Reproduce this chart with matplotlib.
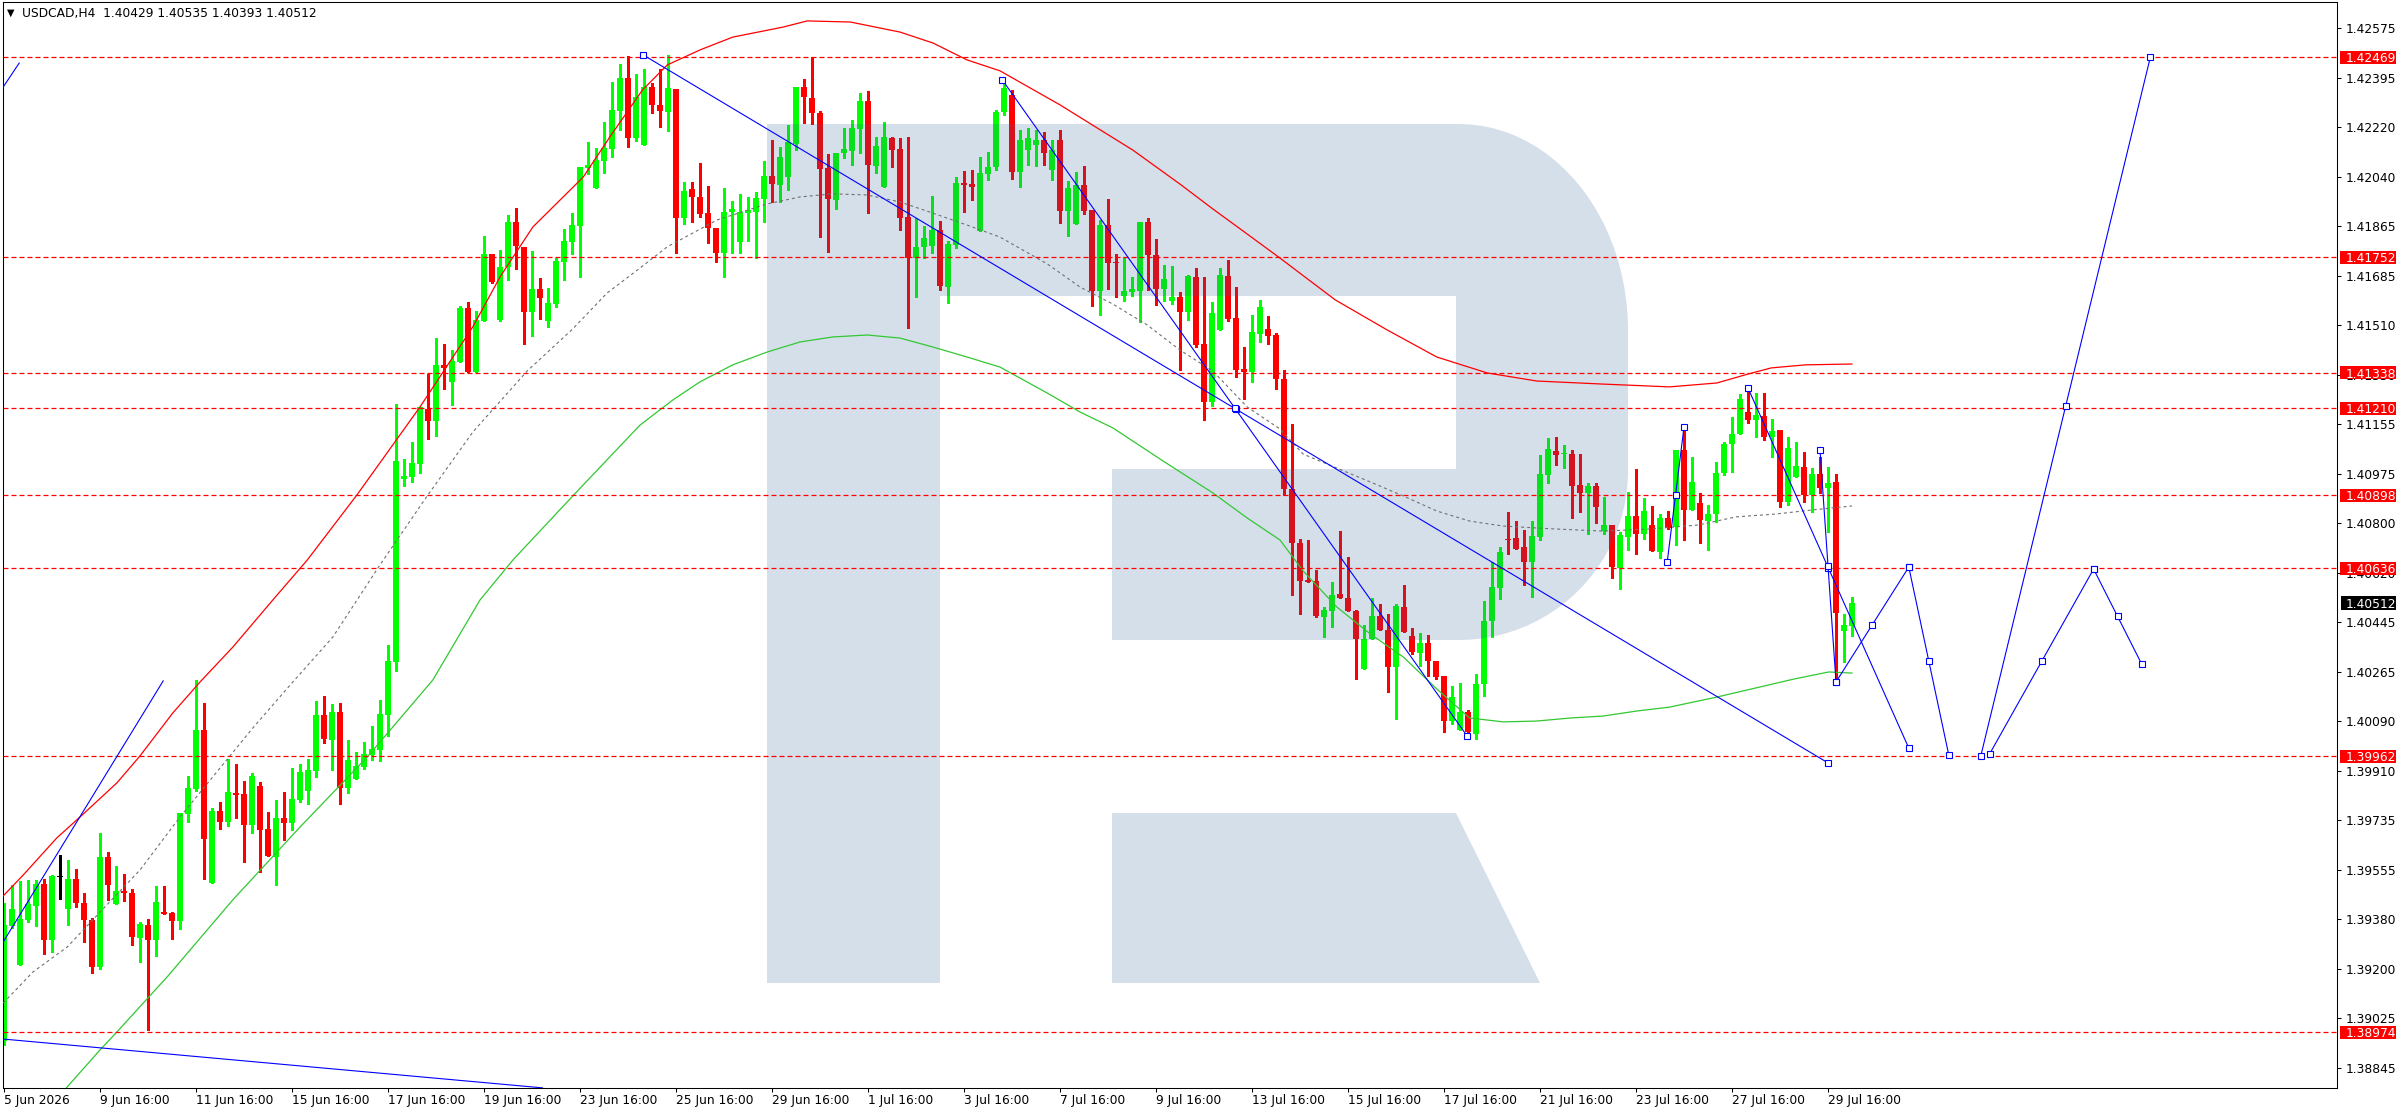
import matplotlib
matplotlib.use("Agg")
import matplotlib.pyplot as plt
import matplotlib.transforms as mtransforms
from matplotlib.patches import Polygon
import numpy as np

plt.rcParams["font.family"] = ["DejaVu Sans"]

symbol = "USDCAD,H4"

# H4 candles, bar 0 = 5 Jun 2026
opens = [
    1.38942, 1.39354, 1.39214, 1.39376, 1.39426, 1.39505, 1.39304, 1.39530, 1.39415, 1.39523,
    1.39437, 1.39376, 1.39207, 1.39602, 1.39433, 1.39480, 1.39473, 1.39311, 1.39358, 1.39304,
    1.39404, 1.39401, 1.39372, 1.39756, 1.39845, 1.40057, 1.39508, 1.39767, 1.39727, 1.39831,
    1.39828, 1.39716, 1.39856, 1.39702, 1.39602, 1.39742, 1.39724, 1.39806, 1.39838, 1.39910,
    1.40111, 1.40021, 1.40121, 1.39849, 1.39881, 1.39924, 1.39967, 1.39985, 1.40111, 1.40301,
    1.40957, 1.40964, 1.41011, 1.41208, 1.41165, 1.41366, 1.41305, 1.41376, 1.41570, 1.41340,
    1.41523, 1.41763, 1.41527, 1.41717, 1.41878, 1.41789, 1.41556, 1.41638, 1.41523, 1.41584,
    1.41735, 1.41806, 1.41864, 1.42072, 1.42000, 1.42097, 1.42140, 1.42276, 1.42394, 1.42179,
    1.42154, 1.42362, 1.42298, 1.42273, 1.42355, 1.41893, 1.41996, 1.41968, 1.41910, 1.41857,
    1.41767, 1.41914, 1.41806, 1.41910, 1.41914, 1.41961, 1.42043, 1.42011, 1.42039, 1.42158,
    1.42362, 1.42323, 1.42269, 1.42072, 1.41957, 1.42125, 1.42133, 1.42211, 1.42312, 1.42079,
    1.42004, 1.42179, 1.42140, 1.41896, 1.41749, 1.41789, 1.41792, 1.41849, 1.41645, 1.41796,
    1.42018, 1.42014, 1.41846, 1.42050, 1.42075, 1.42273, 1.42333, 1.42057, 1.42136, 1.42154,
    1.42172, 1.42065, 1.42172, 1.41918, 1.41871, 1.42011, 1.41921, 1.41631, 1.41867, 1.41735,
    1.41613, 1.41627, 1.41631, 1.41878, 1.41760, 1.41638, 1.41595, 1.41609, 1.41556, 1.41681,
    1.41441, 1.41233, 1.41491, 1.41684, 1.41534, 1.41351, 1.41340, 1.41477, 1.41495, 1.41473,
    1.41315, 1.40921, 1.40727, 1.40595, 1.40591, 1.40462, 1.40484, 1.40545, 1.40530, 1.40484,
    1.40276, 1.40383, 1.40466, 1.40415, 1.40283, 1.40498, 1.40394, 1.40333, 1.40369, 1.40304,
    1.40251, 1.40089, 1.40057, 1.40121, 1.40043, 1.40222, 1.40448, 1.40566, 1.40742, 1.40745,
    1.40713, 1.40659, 1.40749, 1.40971, 1.41057, 1.41046, 1.41046, 1.40935, 1.40907, 1.40932,
    1.40770, 1.40792, 1.40638, 1.40749, 1.40824, 1.40760, 1.40792, 1.40695, 1.40817, 1.40785,
    1.41061, 1.40846, 1.40871, 1.40806, 1.40831, 1.40978, 1.41082, 1.41118, 1.41197, 1.41168,
    1.41183, 1.41107, 1.41132, 1.40874, 1.40964, 1.41000, 1.40899, 1.40975, 1.40925, 1.40946,
    1.40412, 1.40429,
]
highs = [
    1.39437, 1.39501, 1.39516, 1.39519, 1.39519, 1.39523, 1.39537, 1.39609, 1.39591, 1.39559,
    1.39473, 1.39383, 1.39688, 1.39620, 1.39569, 1.39541, 1.39487, 1.39369, 1.39379, 1.39498,
    1.39498, 1.39404, 1.39759, 1.39892, 1.40236, 1.40154, 1.39777, 1.39799, 1.39953, 1.39935,
    1.39874, 1.39903, 1.39871, 1.39763, 1.39806, 1.39835, 1.39921, 1.39935, 1.39953, 1.40161,
    1.40179, 1.40150, 1.40154, 1.40021, 1.39978, 1.40014, 1.40071, 1.40164, 1.40362, 1.41226,
    1.41029, 1.41089, 1.41215, 1.41333, 1.41462, 1.41441, 1.41419, 1.41577, 1.41591, 1.41559,
    1.41828, 1.41763, 1.41778, 1.41903, 1.41928, 1.41789, 1.41774, 1.41677, 1.41642, 1.41749,
    1.41853, 1.41910, 1.42075, 1.42165, 1.42143, 1.42237, 1.42380, 1.42445, 1.42473, 1.42409,
    1.42427, 1.42376, 1.42427, 1.42477, 1.42355, 1.42021, 1.42021, 1.42090, 1.42007, 1.41857,
    1.42000, 1.41953, 1.41979, 1.41968, 1.41986, 1.42097, 1.42172, 1.42147, 1.42226, 1.42362,
    1.42391, 1.42470, 1.42276, 1.42122, 1.42125, 1.42215, 1.42244, 1.42341, 1.42348, 1.42183,
    1.42237, 1.42183, 1.42179, 1.42183, 1.41893, 1.41864, 1.41971, 1.41882, 1.41810, 1.42039,
    1.42061, 1.42065, 1.42111, 1.42129, 1.42280, 1.42387, 1.42351, 1.42208, 1.42215, 1.42208,
    1.42201, 1.42172, 1.42208, 1.42025, 1.42057, 1.42079, 1.41921, 1.41885, 1.41961, 1.41763,
    1.41753, 1.41681, 1.41878, 1.41893, 1.41817, 1.41724, 1.41720, 1.41627, 1.41688, 1.41713,
    1.41681, 1.41591, 1.41713, 1.41742, 1.41645, 1.41430, 1.41545, 1.41599, 1.41541, 1.41480,
    1.41347, 1.41154, 1.40742, 1.40738, 1.40631, 1.40498, 1.40587, 1.40770, 1.40677, 1.40487,
    1.40433, 1.40530, 1.40509, 1.40473, 1.40509, 1.40577, 1.40423, 1.40405, 1.40398, 1.40304,
    1.40251, 1.40215, 1.40225, 1.40129, 1.40258, 1.40519, 1.40659, 1.40713, 1.40839, 1.40806,
    1.40774, 1.40806, 1.41043, 1.41104, 1.41107, 1.41079, 1.41061, 1.41046, 1.40942, 1.40942,
    1.40892, 1.40792, 1.40767, 1.40910, 1.40993, 1.40889, 1.40860, 1.40831, 1.40842, 1.41061,
    1.41132, 1.41036, 1.40907, 1.40864, 1.41018, 1.41089, 1.41179, 1.41262, 1.41279, 1.41265,
    1.41265, 1.41172, 1.41132, 1.41107, 1.41089, 1.41054, 1.40996, 1.41036, 1.41000, 1.40975,
    1.40473, 1.40535,
]
lows = [
    1.38928, 1.39347, 1.39214, 1.39369, 1.39354, 1.39254, 1.39261, 1.39451, 1.39358, 1.39422,
    1.39297, 1.39186, 1.39200, 1.39448, 1.39433, 1.39444, 1.39286, 1.39225, 1.38981, 1.39247,
    1.39397, 1.39308, 1.39343, 1.39727, 1.39838, 1.39523, 1.39508, 1.39702, 1.39713, 1.39742,
    1.39584, 1.39688, 1.39548, 1.39605, 1.39501, 1.39663, 1.39698, 1.39799, 1.39792, 1.39889,
    1.40010, 1.39913, 1.39792, 1.39831, 1.39881, 1.39917, 1.39949, 1.39946, 1.40035, 1.40269,
    1.40932, 1.40946, 1.40978, 1.41100, 1.41111, 1.41279, 1.41222, 1.41376, 1.41340, 1.41340,
    1.41523, 1.41659, 1.41523, 1.41670, 1.41710, 1.41441, 1.41469, 1.41530, 1.41502, 1.41573,
    1.41670, 1.41763, 1.41681, 1.42050, 1.42000, 1.42054, 1.42111, 1.42208, 1.42147, 1.42168,
    1.42154, 1.42269, 1.42219, 1.42204, 1.41767, 1.41871, 1.41878, 1.41896, 1.41803, 1.41735,
    1.41681, 1.41767, 1.41767, 1.41810, 1.41749, 1.41878, 1.41950, 1.41950, 1.41993, 1.42136,
    1.42233, 1.42229, 1.41824, 1.41771, 1.41925, 1.42108, 1.42082, 1.42125, 1.41910, 1.42054,
    1.42004, 1.42075, 1.41849, 1.41498, 1.41609, 1.41749, 1.41767, 1.41634, 1.41588, 1.41785,
    1.41914, 1.41957, 1.41846, 1.42029, 1.42065, 1.42262, 1.42032, 1.42004, 1.42082, 1.42079,
    1.42082, 1.42029, 1.41875, 1.41828, 1.41871, 1.41907, 1.41577, 1.41545, 1.41638, 1.41609,
    1.41595, 1.41613, 1.41520, 1.41634, 1.41581, 1.41595, 1.41584, 1.41347, 1.41527, 1.41430,
    1.41168, 1.41218, 1.41491, 1.41523, 1.41322, 1.41244, 1.41305, 1.41448, 1.41441, 1.41279,
    1.40899, 1.40541, 1.40473, 1.40587, 1.40462, 1.40390, 1.40426, 1.40530, 1.40484, 1.40240,
    1.40276, 1.40383, 1.40415, 1.40193, 1.40096, 1.40408, 1.40329, 1.40286, 1.40251, 1.40240,
    1.40050, 1.40079, 1.40057, 1.40035, 1.40025, 1.40179, 1.40390, 1.40527, 1.40688, 1.40706,
    1.40577, 1.40534, 1.40738, 1.40942, 1.41007, 1.40996, 1.40817, 1.40839, 1.40760, 1.40799,
    1.40760, 1.40602, 1.40562, 1.40702, 1.40688, 1.40742, 1.40699, 1.40674, 1.40778, 1.40720,
    1.40738, 1.40846, 1.40727, 1.40702, 1.40803, 1.40971, 1.40982, 1.41118, 1.41158, 1.41107,
    1.41097, 1.41036, 1.40856, 1.40864, 1.40964, 1.40874, 1.40839, 1.40907, 1.40767, 1.40236,
    1.40301, 1.40393,
]
closes = [
    1.39358, 1.39415, 1.39379, 1.39433, 1.39505, 1.39304, 1.39534, 1.39530, 1.39523, 1.39437,
    1.39376, 1.39207, 1.39602, 1.39501, 1.39480, 1.39473, 1.39315, 1.39361, 1.39304, 1.39440,
    1.39397, 1.39372, 1.39759, 1.39849, 1.40057, 1.39666, 1.39767, 1.39727, 1.39835, 1.39824,
    1.39716, 1.39892, 1.39698, 1.39605, 1.39742, 1.39724, 1.39810, 1.39906, 1.39913, 1.40111,
    1.40025, 1.40121, 1.39849, 1.39949, 1.39928, 1.39971, 1.39989, 1.40114, 1.40304, 1.41021,
    1.40968, 1.41014, 1.41215, 1.41165, 1.41366, 1.41355, 1.41380, 1.41570, 1.41340, 1.41527,
    1.41763, 1.41663, 1.41717, 1.41878, 1.41792, 1.41556, 1.41638, 1.41606, 1.41588, 1.41738,
    1.41810, 1.41867, 1.42075, 1.42082, 1.42100, 1.42143, 1.42280, 1.42394, 1.42179, 1.42326,
    1.42362, 1.42298, 1.42276, 1.42358, 1.41893, 1.41989, 1.41968, 1.41907, 1.41857, 1.41767,
    1.41914, 1.41925, 1.41914, 1.41921, 1.41964, 1.42043, 1.42014, 1.42111, 1.42165, 1.42362,
    1.42326, 1.42269, 1.42068, 1.41961, 1.42125, 1.42140, 1.42215, 1.42312, 1.42082, 1.42151,
    1.42183, 1.42136, 1.41893, 1.41749, 1.41789, 1.41821, 1.41849, 1.41649, 1.41799, 1.42018,
    1.42011, 1.42004, 1.42054, 1.42075, 1.42273, 1.42358, 1.42057, 1.42172, 1.42179, 1.42172,
    1.42125, 1.42136, 1.41918, 1.42000, 1.42011, 1.41918, 1.41631, 1.41867, 1.41731, 1.41731,
    1.41631, 1.41638, 1.41878, 1.41760, 1.41638, 1.41674, 1.41609, 1.41556, 1.41684, 1.41437,
    1.41233, 1.41552, 1.41688, 1.41530, 1.41347, 1.41340, 1.41484, 1.41573, 1.41469, 1.41315,
    1.40921, 1.40727, 1.40591, 1.40587, 1.40466, 1.40487, 1.40541, 1.40530, 1.40484, 1.40383,
    1.40383, 1.40466, 1.40415, 1.40283, 1.40502, 1.40408, 1.40337, 1.40369, 1.40304, 1.40247,
    1.40089, 1.40175, 1.40121, 1.40050, 1.40222, 1.40448, 1.40570, 1.40695, 1.40738, 1.40706,
    1.40659, 1.40752, 1.40975, 1.41064, 1.41043, 1.41050, 1.40932, 1.40907, 1.40932, 1.40856,
    1.40792, 1.40641, 1.40756, 1.40824, 1.40760, 1.40842, 1.40699, 1.40817, 1.40781, 1.41061,
    1.40846, 1.40946, 1.40810, 1.40831, 1.40978, 1.41082, 1.41118, 1.41244, 1.41168, 1.41186,
    1.41107, 1.41129, 1.40874, 1.41068, 1.41003, 1.40899, 1.40975, 1.40925, 1.40942, 1.40476,
    1.40433, 1.40512,
]

time_labels = [
    "5 Jun 2026", "9 Jun 16:00", "11 Jun 16:00", "15 Jun 16:00", "17 Jun 16:00",
    "19 Jun 16:00", "23 Jun 16:00", "25 Jun 16:00", "29 Jun 16:00", "1 Jul 16:00",
    "3 Jul 16:00", "7 Jul 16:00", "9 Jul 16:00", "13 Jul 16:00", "15 Jul 16:00",
    "17 Jul 16:00", "21 Jul 16:00", "23 Jul 16:00", "27 Jul 16:00", "29 Jul 16:00",
]
bars_per_label = 12

price_ticks = [
    1.42575, 1.42395, 1.42220, 1.42040, 1.41865, 1.41685, 1.41510, 1.41330, 1.41155,
    1.40975, 1.40800, 1.40620, 1.40445, 1.40265, 1.40090, 1.39910, 1.39735, 1.39555,
    1.39380, 1.39200, 1.39025, 1.38845,
]

# horizontal levels
levels = [1.42469, 1.41752, 1.41338, 1.41210, 1.40898, 1.40636, 1.39962, 1.38974]

# indicator curves (bar, price)
red_ma_x = [-0.1, 2.4, 6.6, 9.5, 14.1, 17.0, 21.1, 24.5, 28.6, 33.6, 37.9, 44.1, 52.0, 58.6,
            62.0, 66.1, 72.4, 75.8, 79.8, 82.9, 87.0, 91.1, 97.4, 100.4, 105.8, 112.0, 116.1,
            120.4, 124.5, 132.0, 141.1, 147.0, 151.1, 155.4, 159.3, 166.4, 172.9, 179.1,
            185.4, 191.6, 199.9, 208.2, 214.1, 218.0, 220.9, 225.2, 231.0]
red_ma_y = [1.39462, 1.39537, 1.39670, 1.39745, 1.39867, 1.39964, 1.40118, 1.40229, 1.40354,
            1.40523, 1.40666, 1.40899, 1.41215, 1.41502, 1.41681, 1.41860, 1.42039, 1.42186,
            1.42351, 1.42441, 1.42495, 1.42541, 1.42577, 1.42599, 1.42595, 1.42559, 1.42520,
            1.42459, 1.42420, 1.42298, 1.42136, 1.42014, 1.41925, 1.41835, 1.41753, 1.41599,
            1.41491, 1.41394, 1.41337, 1.41308, 1.41297, 1.41287, 1.41301, 1.41333, 1.41355,
            1.41366, 1.41369]

mid_ma_x = [-0.1, 3.6, 7.9, 12.0, 17.0, 22.0, 26.1, 31.1, 36.1, 41.1, 47.0, 52.9, 58.6, 65.4,
            71.1, 75.4, 79.5, 82.9, 89.1, 95.4, 99.5, 103.6, 107.9, 112.0, 116.1, 120.4,
            124.5, 130.4, 134.5, 138.6, 142.9, 147.0, 151.1, 155.4, 159.5, 162.4, 166.6,
            170.8, 174.9, 179.1, 183.2, 187.4, 193.6, 199.9, 206.1, 211.8, 216.5, 221.4,
            226.1, 231.0]
mid_ma_y = [1.39078, 1.39189, 1.39279, 1.39404, 1.39555, 1.39745, 1.39889, 1.40064, 1.40229,
            1.40390, 1.40649, 1.40896, 1.41125, 1.41344, 1.41495, 1.41624, 1.41713, 1.41789,
            1.41885, 1.41943, 1.41968, 1.41979, 1.41975, 1.41950, 1.41910, 1.41867, 1.41824,
            1.41728, 1.41645, 1.41584, 1.41509, 1.41419, 1.41344, 1.41215, 1.41136, 1.41046,
            1.40996, 1.40946, 1.40896, 1.40842, 1.40806, 1.40788, 1.40778, 1.40770, 1.40778,
            1.40792, 1.40821, 1.40831, 1.40846, 1.40860]

green_ma_x = [7.8, 12.0, 14.1, 20.4, 28.6, 37.0, 45.4, 53.6, 59.5, 63.6, 71.1, 79.5, 83.6,
              87.0, 91.1, 95.4, 99.5, 103.6, 107.9, 112.0, 116.1, 120.4, 124.5, 130.4, 134.5,
              138.6, 144.9, 151.1, 155.4, 159.5, 162.4, 166.6, 170.8, 174.9, 179.1, 183.2,
              187.4, 191.6, 195.8, 199.9, 204.1, 208.2, 214.1, 223.8, 228.1, 231.0]
green_ma_y = [1.38774, 1.38910, 1.38974, 1.39172, 1.39448, 1.39709, 1.39960, 1.40236, 1.40523,
              1.40666, 1.40896, 1.41150, 1.41240, 1.41305, 1.41366, 1.41412, 1.41448, 1.41466,
              1.41473, 1.41462, 1.41430, 1.41394, 1.41358, 1.41265, 1.41197, 1.41140, 1.41021,
              1.40907, 1.40817, 1.40738, 1.40627, 1.40498, 1.40401, 1.40319, 1.40204, 1.40100,
              1.40086, 1.40089, 1.40100, 1.40107, 1.40125, 1.40139, 1.40175, 1.40240, 1.40265,
              1.40261]

# trend lines: (bar0, price0, bar1, price1)
lines_plain = [
    (-0.1, 1.42362, 1.9, 1.42448),
    (-0.1, 1.39297, 19.9, 1.40233),
    (-0.1, 1.38949, 67.3, 1.38774),
]
lines_selected = [
    (79.9, 1.42477, 228.0, 1.39939),
    (124.8, 1.42387, 182.9, 1.40035),
    (207.9, 1.40659, 210.0, 1.41143),
    (218.0, 1.41283, 238.1, 1.39992),
    (227.0, 1.41061, 229.0, 1.40229),
    (229.0, 1.40229, 238.1, 1.40641),
    (238.1, 1.40641, 243.1, 1.39967),
    (247.1, 1.39964, 268.3, 1.42470),
    (248.2, 1.39971, 261.2, 1.40634),
    (261.2, 1.40634, 267.2, 1.40294),
]

W, H = 2396, 1110
fig = plt.figure(figsize=(W / 100, H / 100), dpi=100)
ax = fig.add_axes([3 / W, 22 / H, 2334 / W, 1086 / H])
y_lo, y_hi = 1.387735, 1.426668
ax.set_xlim(-0.125, 291.625)
ax.set_ylim(y_lo, y_hi)
px = (y_hi - y_lo) / 1086

o, h, l, c = (np.array(v) for v in (opens, highs, lows, closes))
bars = np.arange(len(o))
cols = np.where(c > o, "#00ff00", np.where(c < o, "#ff0000", "#000000"))
ax.vlines(bars, l, h, colors=cols, lw=0.75, zorder=2, antialiased=False)
ax.bar(bars, np.maximum(np.abs(c - o), px), bottom=np.minimum(o, c), width=0.68,
       color=cols, lw=0, zorder=2, antialiased=False)

# watermark "R", drawn in figure pixels
t1 = np.linspace(np.pi / 2, 0, 24)
t2 = np.linspace(0, -np.pi / 2, 24)
bowl = ([(767, 124)]
        + [(1459 + 169 * np.cos(t), 330 - 206 * np.sin(t)) for t in t1]
        + [(1459 + 169 * np.cos(t), 471 - 169 * np.sin(t)) for t in t2]
        + [(1112, 640), (1112, 469), (1456, 469), (1456, 296), (940, 296), (940, 983), (767, 983)])
leg = [(1112, 813), (1456, 813), (1540, 983), (1112, 983)]
to_px = mtransforms.Affine2D().scale(0.01, -0.01).translate(0, H / 100) + fig.dpi_scale_trans
for shape in (bowl, leg):
    ax.add_patch(Polygon(shape, closed=True, transform=to_px, facecolor="#2d5f96",
                         alpha=0.2, lw=0, zorder=2.5))

ax.plot(red_ma_x, red_ma_y, color="#ff0000", lw=0.9, zorder=3)
ax.plot(mid_ma_x, mid_ma_y, color="#707070", lw=0.8, dashes=(2.7, 2.7), zorder=3)
ax.plot(green_ma_x, green_ma_y, color="#32c832", lw=0.9, zorder=3)

for lv in levels:
    ax.axhline(lv, color="#ff0000", lw=0.9, dashes=(4, 2.4), zorder=3.5)

for b0, p0, b1, p1 in lines_plain:
    ax.plot([b0, b1], [p0, p1], color="#0000ff", lw=0.8, zorder=4)
for b0, p0, b1, p1 in lines_selected:
    ax.plot([b0, (b0 + b1) / 2, b1], [p0, (p0 + p1) / 2, p1], color="#0000ff", lw=0.8,
            marker="s", ms=4.2, mfc="white", mec="#0000ff", mew=0.8, zorder=4)

ax.yaxis.tick_right()
ax.set_yticks(price_ticks, [f"{p:.5f}" for p in price_ticks])
ax.tick_params(axis="y", length=3, width=0.75, pad=3, labelsize=8.8)
ax.set_xticks(np.arange(len(time_labels)) * bars_per_label, time_labels)
ax.tick_params(axis="x", length=3, width=0.75, pad=1.5, labelsize=8.8)
for t in ax.get_xticklabels():
    t.set_ha("left")
for s in ax.spines.values():
    s.set_linewidth(0.75)
    s.set_color("black")

# price labels on the right
lab = fig.add_axes([2337 / W, 22 / H, 59 / W, 1086 / H])
lab.set_xlim(0, 59)
lab.set_ylim(y_lo, y_hi)
lab.axis("off")
lab.barh(levels, 57, left=2.5, height=13 * px, color="#ff0000", lw=0)
for lv in levels:
    lab.text(8.5, lv, f"{lv:.5f}", color="white", fontsize=8.8, va="center_baseline", ha="left")
lab.barh([c[-1]], 56, left=3.5, height=14 * px, color="black", lw=0)
lab.text(8.5, c[-1], f"{c[-1]:.5f}", color="white", fontsize=8.8, va="center_baseline", ha="left")

fig.text(11 / W, 1 - 13 / H, "\u25bc", fontsize=7, ha="center", va="center")
fig.text(22 / W, 1 - 13 / H, f"{symbol}  {o[-1]:.5f} {h[-1]:.5f} {l[-1]:.5f} {c[-1]:.5f}",
         fontsize=8.8, ha="left", va="center")

fig.savefig("out.png", dpi=100)
